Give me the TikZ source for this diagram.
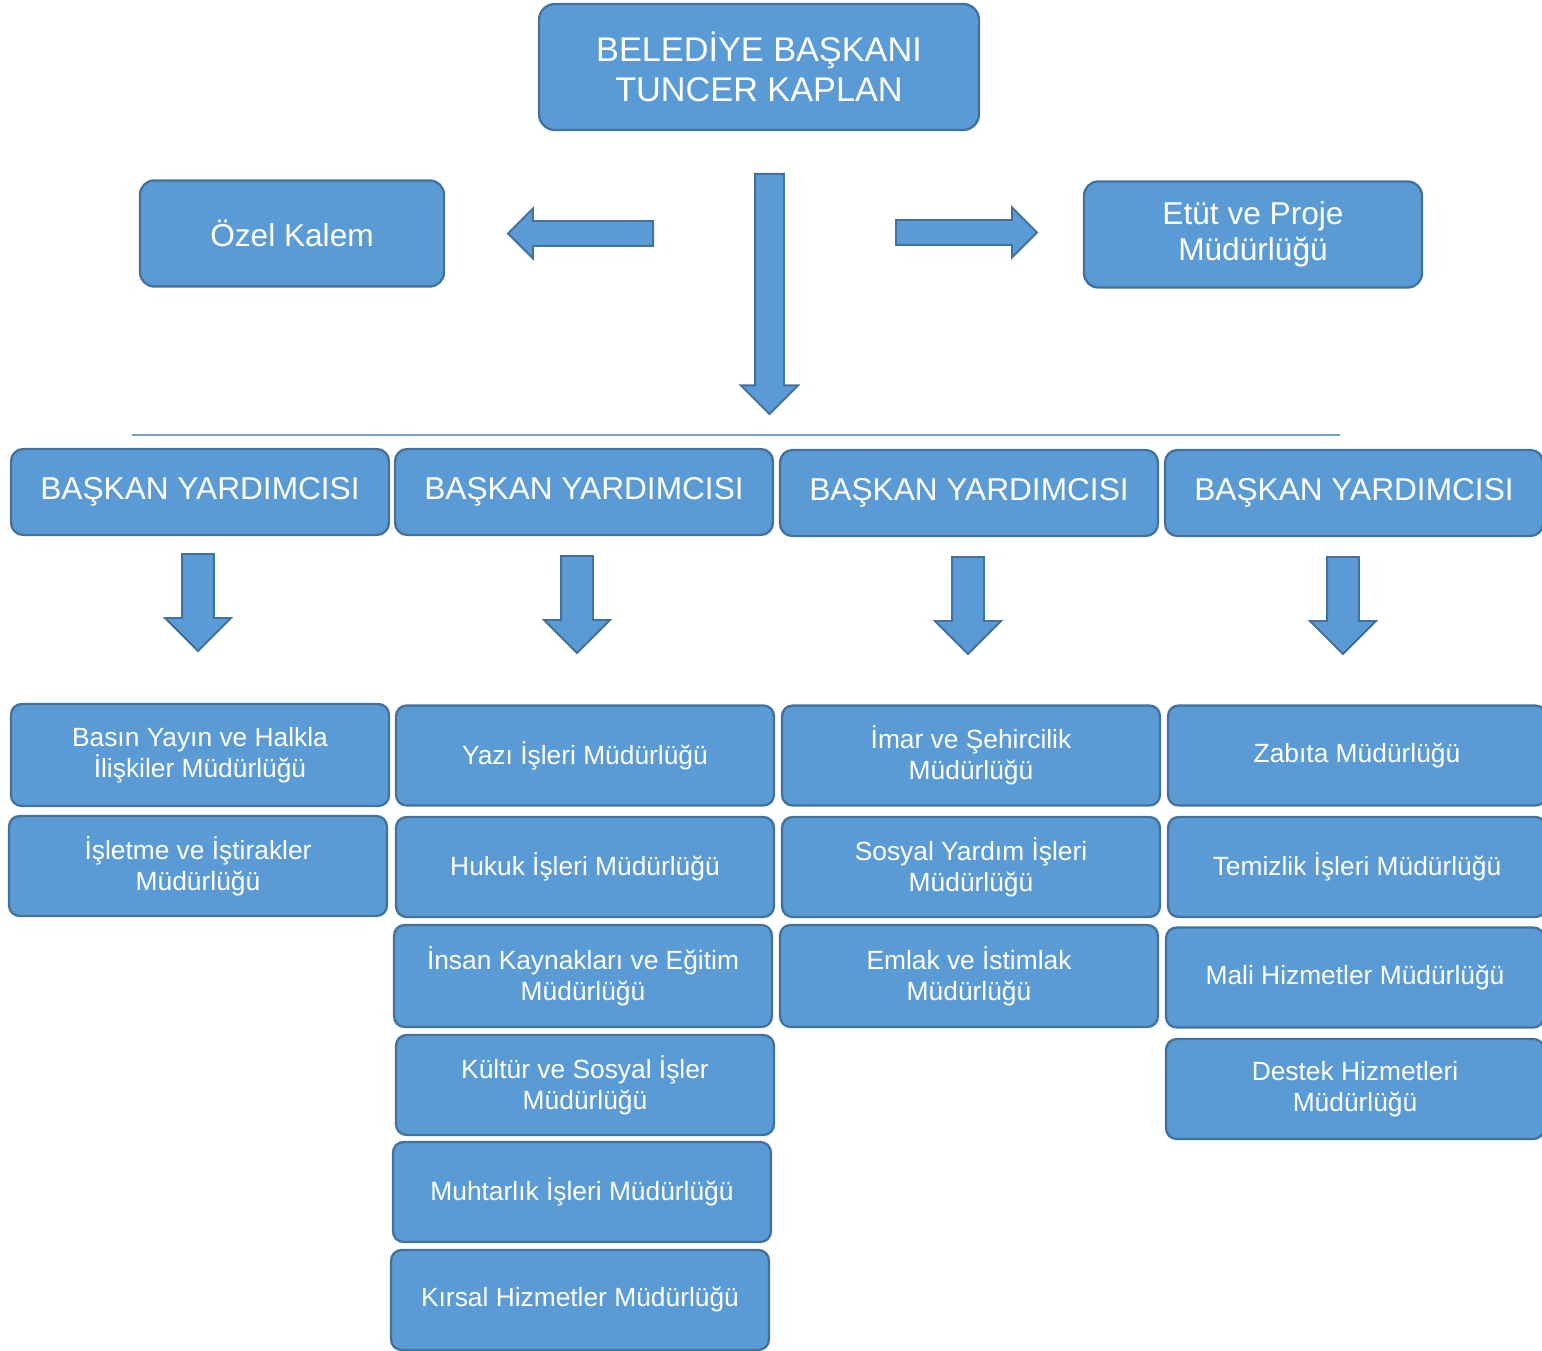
\documentclass[tikz,border=0pt]{standalone}
\usepackage{fontspec}
\setmainfont{Liberation Sans}
\usepackage{tikz}
\usetikzlibrary{shapes.arrows}
\definecolor{orgblue}{RGB}{91,155,213}
\definecolor{orgedge}{RGB}{65,113,156}
\definecolor{orgline}{RGB}{120,160,205}

\begin{document}
\begin{tikzpicture}[x=0.02cm, y=-0.02cm,
      box/.style={rectangle, rounded corners=6pt, fill=orgblue, draw=orgedge, line width=1.3pt, text=white, align=center, inner sep=2pt},
      headbox/.style={box, rounded corners=9pt, minimum width=8.8cm, minimum height=2.52cm, font=\fontsize{19.5}{22.7}\selectfont},
      sidebox/.style={box, rounded corners=8pt, minimum height=2.12cm, font=\fontsize{18}{20.4}\selectfont},
      vicebox/.style={box, rounded corners=7pt, minimum width=7.56cm, minimum height=1.72cm, font=\fontsize{18}{21}\selectfont},
      unit/.style={box, minimum width=7.56cm, minimum height=2.0cm, font=\fontsize{15}{17.6}\selectfont},
      blockarr/.style={single arrow, anchor=tail, fill=orgblue, draw=orgedge, line width=1.1pt, single arrow tip angle=90, inner xsep=0pt},
      bigarr/.style={blockarr, minimum width=0.96cm, inner ysep=0.23cm, single arrow head extend=0.25cm},
      downarr/.style={blockarr, rotate=-90, minimum height=1.94cm, minimum width=1.28cm, inner ysep=0.3cm, single arrow head extend=0.34cm}
    ]
      \useasboundingbox (0,0) rectangle (1542,1351);

      % Top: Mayor
      \node[headbox] (mayor) at (759,67) {BELEDİYE BAŞKANI\\TUNCER KAPLAN};

      % Side Offices
      \node[sidebox, minimum width=6.08cm] (ozel) at (292,233.5) {Özel Kalem};
      \node[sidebox, minimum width=6.76cm] (etut) at (1253,234.5) {Etüt ve Proje\\Müdürlüğü};

      % Big Arrows
      \node[bigarr, rotate=180, minimum height=2.9cm] (arrozel) at (654,233.5) {};
      \node[bigarr, minimum height=2.82cm] (arretut) at (895,232.5) {};
      \node[blockarr, rotate=-90, minimum height=4.8cm, minimum width=1.1cm, inner ysep=0.27cm, single arrow head extend=0.28cm] (arrvice) at (769.5,173) {};

      % Separator
      \coordinate (sepL) at (132,435);
      \coordinate (sepR) at (1340,435);
      \draw[orgline, line width=0.6pt] (sepL) -- (sepR);

      % Deputy Mayors
      \node[vicebox] (vice1) at (200,492) {BAŞKAN YARDIMCISI};
      \node[vicebox] (vice2) at (584,492) {BAŞKAN YARDIMCISI};
      \node[vicebox] (vice3) at (969,493) {BAŞKAN YARDIMCISI};
      \node[vicebox] (vice4) at (1354,493) {BAŞKAN YARDIMCISI};

      % Small Arrows
      \node[downarr] (arr1) at (198,553) {};
      \node[downarr] (arr2) at (577,555) {};
      \node[downarr] (arr3) at (968,556) {};
      \node[downarr] (arr4) at (1343,556) {};

      % Column 1
      \node[unit, minimum height=2.04cm] (basin) at (200,755) {Basın Yayın ve Halkla\\İlişkiler Müdürlüğü};
      \node[unit] (isletme) at (198,866) {İşletme ve İştirakler\\Müdürlüğü};

      % Column 2
      \node[unit] (yazi) at (585,755.5) {Yazı İşleri Müdürlüğü};
      \node[unit] (hukuk) at (585,867) {Hukuk İşleri Müdürlüğü};
      \node[unit, minimum height=2.04cm] (insan) at (583,976) {İnsan Kaynakları ve Eğitim\\Müdürlüğü};
      \node[unit] (kultur) at (585,1085) {Kültür ve Sosyal İşler\\Müdürlüğü};
      \node[unit] (muhtar) at (582,1192) {Muhtarlık İşleri Müdürlüğü};
      \node[unit] (kirsal) at (580,1300) {Kırsal Hizmetler Müdürlüğü};

      % Column 3
      \node[unit] (imar) at (971,755.5) {İmar ve Şehircilik\\Müdürlüğü};
      \node[unit] (sosyal) at (971,867) {Sosyal Yardım İşleri\\Müdürlüğü};
      \node[unit, minimum height=2.04cm] (emlak) at (969,976) {Emlak ve İstimlak\\Müdürlüğü};

      % Column 4
      \node[unit] (zabita) at (1357,755.5) {Zabıta Müdürlüğü};
      \node[unit] (temizlik) at (1357,867) {Temizlik İşleri Müdürlüğü};
      \node[unit] (mali) at (1355,977.5) {Mali Hizmetler Müdürlüğü};
      \node[unit] (destek) at (1355,1089) {Destek Hizmetleri\\Müdürlüğü};
    \end{tikzpicture}
\end{document}
